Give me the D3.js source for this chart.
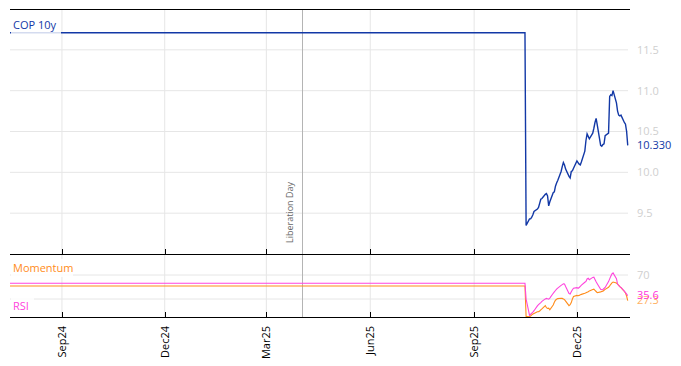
<!DOCTYPE html>
<html>
<head>
<meta charset="utf-8">
<script src="https://cdn.jsdelivr.net/npm/d3@7"></script>
<style>
	body { margin: 0; background: #fff; }
	text { font-family: "Open Sans", sans-serif; }
</style>
</head>
<body>
<script>
// dates (business days after the jump, flat before)
var dates = ["2024-07-17", "2025-10-16",
	"2025-10-17",
	"2025-10-20", "2025-10-21", "2025-10-22", "2025-10-23", "2025-10-24",
	"2025-10-27", "2025-10-28", "2025-10-29", "2025-10-30", "2025-10-31",
	"2025-11-03", "2025-11-04", "2025-11-05", "2025-11-06", "2025-11-07",
	"2025-11-10", "2025-11-11", "2025-11-12", "2025-11-13", "2025-11-14",
	"2025-11-17", "2025-11-18", "2025-11-19", "2025-11-20", "2025-11-21",
	"2025-11-24", "2025-11-25", "2025-11-26", "2025-11-27", "2025-11-28",
	"2025-12-01", "2025-12-02", "2025-12-03", "2025-12-04", "2025-12-05",
	"2025-12-08", "2025-12-09", "2025-12-10", "2025-12-11", "2025-12-12",
	"2025-12-15", "2025-12-16", "2025-12-17", "2025-12-18", "2025-12-19",
	"2025-12-22", "2025-12-23", "2025-12-24", "2025-12-25", "2025-12-26",
	"2025-12-29", "2025-12-30", "2025-12-31", "2026-01-01", "2026-01-02",
	"2026-01-05", "2026-01-06", "2026-01-07", "2026-01-08", "2026-01-09",
	"2026-01-12", "2026-01-13", "2026-01-14", "2026-01-15"];

var cop = [11.71, 11.71,
	9.35,
	9.43, 9.43, 9.45, 9.48, 9.52,
	9.55, 9.57, 9.62, 9.67, 9.68,
	9.73, 9.74, 9.71, 9.59, 9.64,
	9.75, 9.76, 9.83, 9.87, 9.90,
	10.01, 10.07, 10.12, 10.09, 10.04,
	9.95, 9.93, 10.01, 10.02, 10.05,
	10.14, 10.12, 10.10, 10.09, 10.13,
	10.26, 10.39, 10.47, 10.44, 10.41,
	10.48, 10.54, 10.61, 10.66, 10.58,
	10.33, 10.32, 10.34, 10.35, 10.45,
	10.48, 10.93, 10.95, 10.94, 11.00,
	10.85, 10.75, 10.70, 10.69, 10.70,
	10.61, 10.59, 10.50, 10.33];

var rsi = [56.2, 56.2,
	30,
	3, 4.5, 6.5, 8, 10.5,
	18.5, 20.5, 22.3, 24, 26,
	30.2, 31, 30.3, 29.8, 31.5,
	39.5, 41.8, 44.2, 46.5, 48.2,
	52.7, 54, 55.2, 55, 50.7,
	39, 38.2, 42, 45.5, 48,
	49, 47.9, 49.2, 51.2, 53,
	57.9, 59.3, 63.5, 64.5, 62.2,
	66, 66.5, 62.5, 58.7, 55.5,
	46.2, 45.4, 45.8, 47.5, 49.2,
	59, 63.5, 67.8, 71.8, 73.5,
	64, 55, 52.5, 50.7, 49.2,
	43, 40.5, 38, 35.6];

var momentum = [51.7, 51.7,
	1,
	0.5, 1.5, 3.5, 5, 6,
	8.8, 8.8, 10, 11.8, 13.5,
	19, 15.5, 14.3, 14.8, 12,
	20, 24.7, 28, 29.5, 30.7,
	31.2, 31, 30, 29, 26.5,
	19, 20.5, 24, 30, 34.2,
	36, 35.5, 36, 37, 37.7,
	39.5, 40.3, 41.3, 42.2, 43.5,
	46, 46.5, 44.5, 42.5, 40.5,
	41.9, 42.6, 43.1, 44.5, 46,
	49.5, 51.8, 54.5, 57, 58.3,
	56.5, 55, 52.5, 50.7, 49,
	42.5, 40, 35, 27.3];

var xTickDates = ["2024-09-01", "2024-12-01", "2025-03-01", "2025-06-01", "2025-09-01", "2025-12-01"];
var xTickLabels = ["Sep24", "Dec24", "Mar25", "Jun25", "Sep25", "Dec25"];
var copTicks = [9.5, 10.0, 10.5, 11.0, 11.5];
var rsiGrid = [30, 70];
var rsiTickLabels = [70];
var eventDate = "2025-04-02";
var eventLabel = "Liberation Day";

var width = 681, height = 366;
var parse = d3.utcParse("%Y-%m-%d");

var svg = d3.select("body").append("svg")
	.attr("width", width)
	.attr("height", height);

var left = 10, right = 630;
var x = d3.scaleUtc()
	.domain([parse("2024-07-17"), parse("2026-01-17")])
	.range([left, right]);
var y = d3.scaleLinear().domain([9.0, 12.0]).range([254, 9]);
var y2 = d3.scaleLinear().domain([0, 105]).range([317, 254]);

var rows = dates.map(function (d, i) {
	return { date: parse(d), cop: cop[i], rsi: rsi[i], mom: momentum[i] };
});

var grid = "#e6e6e6";

/*************************************************/
// grid
svg.selectAll(".vgrid")
	.data(xTickDates)
	.enter().append("line")
	.attr("x1", function (d) { return x(parse(d)) })
	.attr("x2", function (d) { return x(parse(d)) })
	.attr("y1", 9).attr("y2", 317)
	.style("stroke", grid);

svg.selectAll(".hgrid")
	.data(copTicks)
	.enter().append("line")
	.attr("x1", left).attr("x2", 628)
	.attr("y1", function (d) { return y(d) })
	.attr("y2", function (d) { return y(d) })
	.style("stroke", grid);

svg.selectAll(".hgrid2")
	.data(rsiGrid)
	.enter().append("line")
	.attr("x1", left).attr("x2", 628)
	.attr("y1", function (d) { return y2(d) })
	.attr("y2", function (d) { return y2(d) })
	.style("stroke", grid);

// event line
var ex = Math.round(x(parse(eventDate))) + 0.5;
svg.append("line")
	.attr("x1", ex).attr("x2", ex)
	.attr("y1", 9).attr("y2", 317)
	.style("stroke", "#b4b4b4");
svg.append("text")
	.attr("transform", "translate(" + (ex - 10) + ",243) rotate(-90)")
	.style("font-size", "9px")
	.style("fill", "#666")
	.text(eventLabel);

/*************************************************/
// series
var copLine = d3.line()
	.x(function (d) { return x(d.date) })
	.y(function (d) { return y(d.cop) });
svg.append("path").datum(rows)
	.attr("d", copLine)
	.style("fill", "none")
	.style("stroke", "#1238a6")
	.style("stroke-width", 1.4);

var momLine = d3.line()
	.x(function (d) { return x(d.date) })
	.y(function (d) { return y2(d.mom) });
svg.append("path").datum(rows)
	.attr("d", momLine)
	.style("fill", "none")
	.style("stroke", "#ff8c1a")
	.style("stroke-width", 1.1);

var rsiLine = d3.line()
	.x(function (d) { return x(d.date) })
	.y(function (d) { return y2(d.rsi) });
svg.append("path").datum(rows)
	.attr("d", rsiLine)
	.style("fill", "none")
	.style("stroke", "#ff44dd")
	.style("stroke-width", 1.1);

/*************************************************/
// frame lines + ticks
[9, 254, 317].forEach(function (yy) {
	svg.append("line")
		.attr("x1", left).attr("x2", right)
		.attr("y1", yy + 0.5).attr("y2", yy + 0.5)
		.style("stroke", "#000");
});
[254, 317].forEach(function (yy) {
	svg.selectAll(null)
		.data(xTickDates)
		.enter().append("line")
		.attr("x1", function (d) { return Math.round(x(parse(d))) + 0.5 })
		.attr("x2", function (d) { return Math.round(x(parse(d))) + 0.5 })
		.attr("y1", yy - 5).attr("y2", yy)
		.style("stroke", "#000");
});

svg.selectAll(".xlab")
	.data(xTickDates)
	.enter().append("text")
	.attr("transform", function (d) { return "translate(" + (x(parse(d)) + 4) + ",326) rotate(-90)" })
	.attr("text-anchor", "end")
	.style("font-size", "11px")
	.style("fill", "#000")
	.text(function (d, i) { return xTickLabels[i] });

// right axis labels
svg.selectAll(".ylab")
	.data(copTicks)
	.enter().append("text")
	.attr("x", 637)
	.attr("y", function (d) { return y(d) })
	.attr("dy", "0.35em")
	.style("font-size", "11px")
	.style("fill", "#cfcfcf")
	.text(function (d) { return d.toFixed(1) });

svg.selectAll(".ylab2")
	.data(rsiTickLabels)
	.enter().append("text")
	.attr("x", 637)
	.attr("y", function (d) { return y2(d) })
	.attr("dy", "0.35em")
	.style("font-size", "11px")
	.style("fill", "#cfcfcf")
	.text(function (d) { return d });

var last = rows[rows.length - 1];
svg.append("text")
	.attr("x", 637).attr("y", y(last.cop)).attr("dy", "0.35em")
	.style("font-size", "11px").style("fill", "#1238a6")
	.text(last.cop.toFixed(3));
svg.append("text")
	.attr("x", 637).attr("y", y2(last.mom)).attr("dy", "0.35em")
	.style("font-size", "11px").style("fill", "#ffb266")
	.text(last.mom.toFixed(1));
svg.append("text")
	.attr("x", 637).attr("y", y2(last.rsi)).attr("dy", "0.35em")
	.style("font-size", "11px").style("fill", "#ff33dd")
	.text(last.rsi.toFixed(1));

// legend labels with white boxes
function label(txt, ty, color, bw) {
	svg.append("rect")
		.attr("x", 11).attr("y", ty - 9).attr("width", bw).attr("height", 18)
		.style("fill", "#fff").style("opacity", 0.82);
	svg.append("text")
		.attr("x", 13).attr("y", ty).attr("dy", "0.35em")
		.style("font-size", "11px").style("fill", color)
		.text(txt);
}
label("COP 10y", 25, "#1238a6", 50);
label("Momentum", 268, "#ff8c1a", 62);
label("RSI", 306, "#ff44dd", 23);
</script>
</body>
</html>
